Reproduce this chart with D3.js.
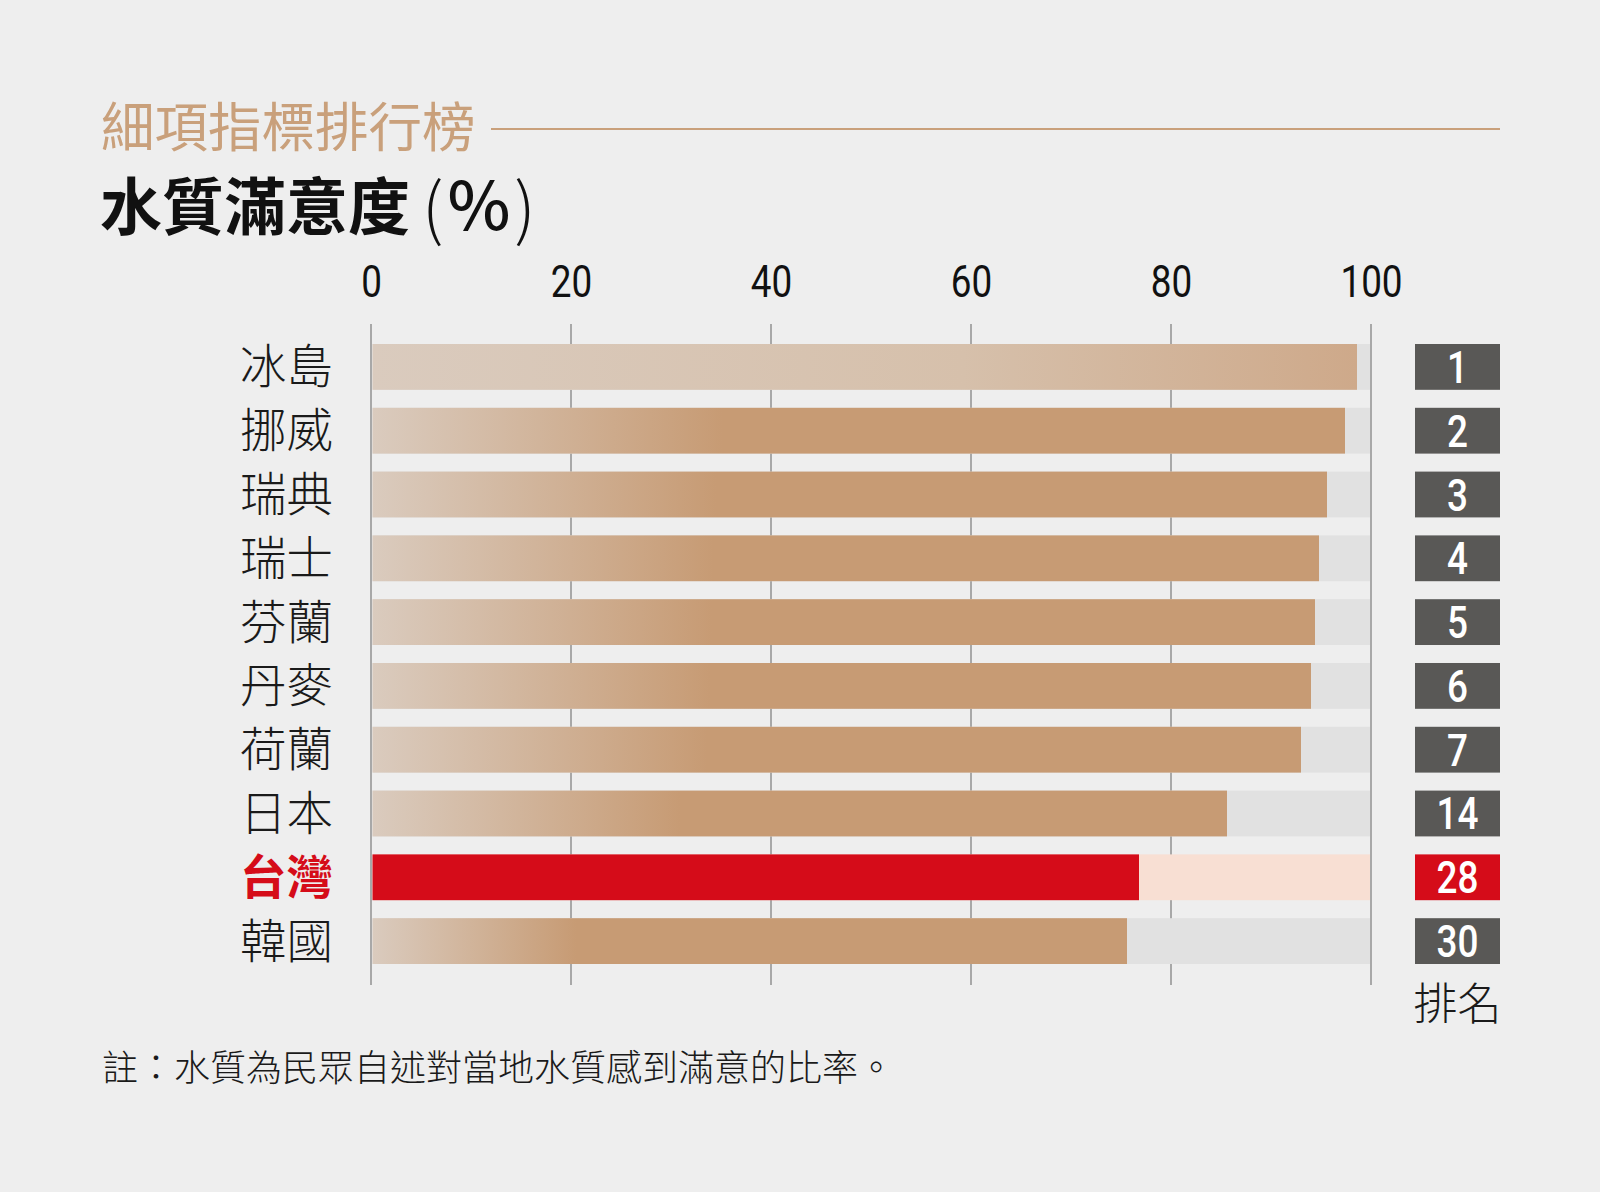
<!DOCTYPE html>
<html>
<head>
<meta charset="utf-8">
<script src="https://cdn.jsdelivr.net/npm/d3@7/dist/d3.min.js"></script>
<style>
  html, body { margin: 0; padding: 0; background: #eeeeee; }
  svg { display: block; }
  .cjk { font-family: "Noto Sans CJK TC", "Noto Sans CJK SC", sans-serif; }
  .num { font-family: Roboto, "Liberation Sans Narrow", sans-serif; }
</style>
</head>
<body>
<div class="chart"></div>
<script>
// data
const countries = ["冰島", "挪威", "瑞典", "瑞士", "芬蘭", "丹麥", "荷蘭", "日本", "台灣", "韓國"];
const satisfaction = [98.6, 97.4, 95.6, 94.8, 94.4, 94.0, 93.0, 85.6, 76.8, 75.6];
const ranks = [1, 2, 3, 4, 5, 6, 7, 14, 28, 30];
const xTicks = [0, 20, 40, 60, 80, 100];
const highlight = "台灣";

const width = 1600, height = 1192;
const narrow = "scale(0.82,1)";

const svg = d3.select(".chart")
  .append("svg")
  .attr("width", width)
  .attr("height", height);

svg.append("rect")
  .attr("width", width)
  .attr("height", height)
  .attr("fill", "#eeeeee");

// scales
const xScale = d3.scaleLinear().domain([0, 100]).range([371, 1371]);
const yScale = d3.scaleBand()
  .domain(countries)
  .range([344, 964])
  .paddingInner(0.282)
  .paddingOuter(0);

const rows = countries.map((c, i) => ({ country: c, value: satisfaction[i], rank: ranks[i] }));

// gradients
const defs = svg.append("defs");
rows.forEach((d, i) => {
  const g = defs.append("linearGradient")
    .attr("id", "grad" + i)
    .attr("x1", "0%").attr("x2", "100%")
    .attr("y1", "0%").attr("y2", "0%");
  if (i === 0) {
    g.append("stop").attr("offset", "0%").attr("stop-color", "#dacbbe");
    g.append("stop").attr("offset", "60%").attr("stop-color", "#d6c0ab");
    g.append("stop").attr("offset", "100%").attr("stop-color", "#cea98a");
  } else {
    const full = d.country === "韓國" ? "27%" : "36%";
    g.append("stop").attr("offset", "0%").attr("stop-color", "#dacbbe");
    g.append("stop").attr("offset", full).attr("stop-color", "#c79b74");
    g.append("stop").attr("offset", "100%").attr("stop-color", "#c79b74");
  }
});

// titles
svg.append("text")
  .attr("class", "cjk")
  .attr("x", 101)
  .attr("y", 147)
  .attr("font-size", "53.5px")
  .attr("font-weight", 400)
  .attr("fill", "#c9a07b")
  .text("細項指標排行榜");

svg.append("line")
  .attr("x1", 491).attr("x2", 1500)
  .attr("y1", 129).attr("y2", 129)
  .attr("stroke", "#c9a07b")
  .attr("stroke-width", 2);

const title2 = svg.append("text")
  .attr("class", "cjk")
  .attr("x", 100)
  .attr("y", 230)
  .attr("font-size", "62px")
  .attr("font-weight", 700)
  .attr("fill", "#111");
title2.append("tspan").text("水質滿意度");
title2.append("tspan").attr("dx", 12).attr("font-weight", 300).attr("font-size", "68px").attr("dy", 3).text("(");
title2.append("tspan").attr("dx", 4).attr("font-weight", 500).attr("font-size", "67px").attr("dy", -3).text("%");
title2.append("tspan").attr("dx", 4).attr("font-weight", 300).attr("font-size", "68px").attr("dy", 3).text(")");

// top axis labels
const xAxis = d3.axisTop(xScale).tickValues(xTicks).tickSize(0).tickPadding(0);
const axisG = svg.append("g")
  .attr("class", "x axis")
  .attr("transform", "translate(0,297)")
  .call(xAxis);
axisG.select(".domain").remove();
axisG.selectAll("text")
  .attr("font-size", "45px")
  .attr("font-weight", 400)
  .attr("fill", "#111")
  .attr("transform", narrow)
  .style("font-family", "Roboto, 'Liberation Sans Narrow', sans-serif");

// gridlines
svg.append("g")
  .selectAll("line")
  .data(xTicks)
  .enter()
  .append("line")
  .attr("x1", d => xScale(d))
  .attr("x2", d => xScale(d))
  .attr("y1", 324)
  .attr("y2", 985)
  .attr("stroke", "#a8a8a8")
  .attr("stroke-width", 2);

// background bars (0 -> 100)
svg.append("g")
  .selectAll("rect")
  .data(rows)
  .enter()
  .append("rect")
  .attr("x", xScale(0) + 1.5)
  .attr("y", d => yScale(d.country))
  .attr("width", xScale(100) - xScale(0) - 2.5)
  .attr("height", yScale.bandwidth())
  .attr("fill", d => d.country === highlight ? "#f8dfd3" : "#e1e1e1");

// value bars
svg.append("g")
  .selectAll("rect")
  .data(rows)
  .enter()
  .append("rect")
  .attr("x", xScale(0) + 1.5)
  .attr("y", d => yScale(d.country))
  .attr("width", d => xScale(d.value) - xScale(0) - 1.5)
  .attr("height", yScale.bandwidth())
  .attr("fill", (d, i) => d.country === highlight ? "#d50c19" : "url(#grad" + i + ")");

// country labels
svg.append("g")
  .selectAll("text")
  .data(rows)
  .enter()
  .append("text")
  .attr("class", "cjk")
  .attr("x", 333)
  .attr("y", d => yScale(d.country) + yScale.bandwidth() / 2 - 4)
  .attr("dominant-baseline", "central")
  .attr("text-anchor", "end")
  .attr("font-size", "46.5px")
  .attr("font-weight", d => d.country === highlight ? 700 : 300)
  .attr("fill", d => d.country === highlight ? "#d50c19" : "#1a1a1a")
  .text(d => d.country);

// rank boxes
const rankG = svg.append("g");
rankG.selectAll("rect")
  .data(rows)
  .enter()
  .append("rect")
  .attr("x", 1415)
  .attr("y", d => yScale(d.country))
  .attr("width", 85)
  .attr("height", yScale.bandwidth())
  .attr("fill", d => d.country === highlight ? "#d50c19" : "#595856");

rankG.selectAll("g.rank")
  .data(rows)
  .enter()
  .append("g")
  .attr("class", "rank")
  .attr("transform", d => "translate(1457.5," + (yScale(d.country) + yScale.bandwidth() / 2 + 16) + ")")
  .append("text")
  .attr("class", "num")
  .attr("transform", narrow)
  .attr("text-anchor", "middle")
  .attr("font-size", "45px")
  .attr("font-weight", 500)
  .attr("fill", "#ffffff")
  .text(d => d.rank);

svg.append("text")
  .attr("class", "cjk")
  .attr("x", 1457.5)
  .attr("y", 1001)
  .attr("dominant-baseline", "central")
  .attr("text-anchor", "middle")
  .attr("font-size", "44px")
  .attr("font-weight", 300)
  .attr("fill", "#1a1a1a")
  .text("排名");

// footnote
svg.append("text")
  .attr("class", "cjk")
  .attr("x", 102)
  .attr("y", 1081)
  .attr("font-size", "36px")
  .attr("font-weight", 300)
  .attr("fill", "#1a1a1a")
  .text("註：水質為民眾自述對當地水質感到滿意的比率。");
</script>
</body>
</html>
